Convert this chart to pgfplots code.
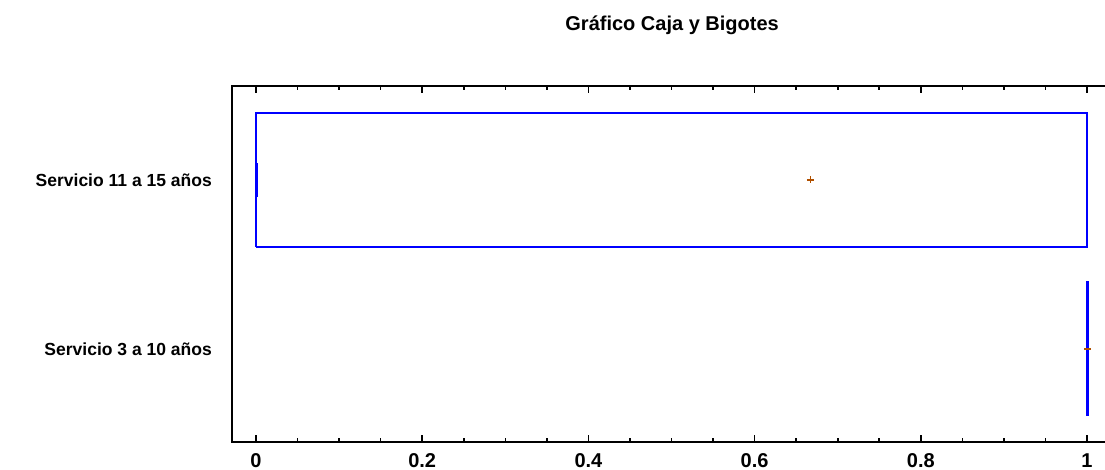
\documentclass[border=0pt]{standalone}
\usepackage{pgfplots}
\pgfplotsset{compat=1.18}
\usepackage{fontspec}
\setmainfont{Liberation Sans}
\begin{document}
\begin{tikzpicture}[x=1pt,y=1pt]
\path[use as bounding box] (0,0) rectangle (1105,469);
\begin{axis}[
  at={(232pt,27pt)}, anchor=south west,
  scale only axis, width=875pt, height=356pt,
  xmin=-0.02888, xmax=1.02407,
  ymin=0.450, ymax=2.556,
  xtick={0,0.2,0.4,0.6,0.8,1},
  xticklabels={0,0.2,0.4,0.6,0.8,1},
  minor x tick num=3,
  ytick={1,2},
  yticklabels={Servicio 3 a 10 años,Servicio 11 a 15 años},
  y tick style={draw=none},
  major tick length=7pt, minor tick length=4pt,
  x tick style={line width=1.6pt,black},
  axis line style={line width=1.6pt,black},
  tick align=inside,
  xtick pos=both,
  /pgf/number format/assume math mode=true,
  xticklabel style={anchor=base, yshift=-25pt, inner sep=0pt, font=\bfseries\fontsize{20}{24}\selectfont},
  yticklabel style={anchor=east, xshift=-20pt, inner sep=0pt, font=\bfseries\fontsize{17.5}{21}\selectfont},
  title={Gráfico Caja y Bigotes},
  title style={at={(rel axis cs:0.503,1)}, anchor=base, yshift=49pt, inner sep=0pt, font=\bfseries\fontsize{20}{24}\selectfont},
  clip=false,
]
% Group 1 box
\addplot[draw={rgb,255:red,0;green,0;blue,255}, line width=1.6pt, mark=none]
  coordinates {(0,1.604) (1,1.604) (1,2.396) (0,2.396) (0,1.604)};
% median segment group 1
\addplot[draw={rgb,255:red,0;green,0;blue,255}, line width=3pt, mark=none]
  coordinates {(0,1.9) (0,2.1)};
% mean group 1
\addplot[only marks, mark=+, mark size=3.5pt, color={rgb,255:red,176;green,80;blue,0}, mark options={line width=1.2pt}]
  coordinates {(0.667,2)};
% Group 2: all values at 1
\addplot[draw={rgb,255:red,0;green,0;blue,255}, line width=3pt, mark=none]
  coordinates {(1,0.604) (1,1.402)};
\addplot[only marks, mark=-, mark size=3.5pt, color={rgb,255:red,176;green,80;blue,0}, mark options={line width=1.2pt}]
  coordinates {(1,1)};
\end{axis}
\end{tikzpicture}
\end{document}
